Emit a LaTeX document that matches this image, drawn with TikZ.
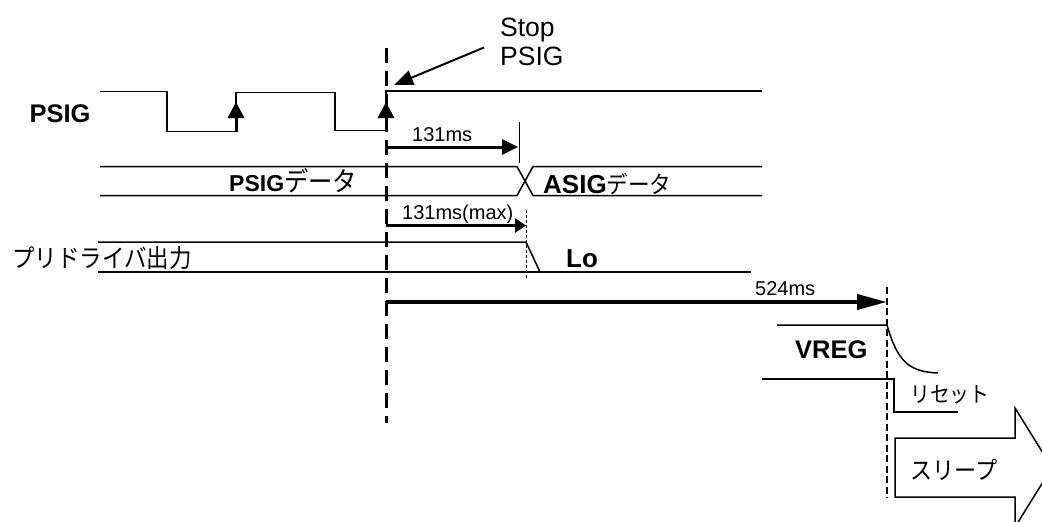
\documentclass[tikz,border=0pt]{standalone}
\usepackage{fontspec}
\setmainfont{Liberation Sans}
\newfontfamily\jp[FakeStretch=0.9]{Noto Sans CJK JP}
\usetikzlibrary{arrows.meta}
\begin{document}
\begin{tikzpicture}[x=1pt,y=-1pt,
  wave/.style={line width=1.5pt},
  thin/.style={line width=1pt},
  txt/.style={inner sep=0pt},
  small/.style={txt,font=\fontsize{20}{24}\selectfont},
  boldlbl/.style={txt,font=\bfseries\fontsize{25.5}{30}\selectfont},
  jplbl/.style={txt,font=\jp\fontsize{25}{30}\selectfont},
  upedge/.style={line width=3pt,-{Triangle[length=16pt,width=16pt]}},
  dimarrow/.style={line width=3pt,-{Triangle[length=16pt,width=15pt]}}
]
\useasboundingbox (0,0) rectangle (1042,522);
\clip (0,0) rectangle (1042,522);

% ---------------- PSIG waveform
\draw[wave] (100,91.5) -- (167,91.5) -- (167,131.5) -- (236,131.5) -- (236,92.5)
  -- (335,92.5) -- (335,130.5) -- (386,130.5) -- (386,91) -- (762,91);
\coordinate (up1b) at (236,132);
\coordinate (up1t) at (236,102);
\coordinate (up2b) at (386,132);
\coordinate (up2t) at (386,102);
\draw[upedge] (up1b) -- (up1t);
\draw[upedge] (up2b) -- (up2t);
\node[boldlbl,anchor=base] (psig) at (60,122) {PSIG};

% Stop PSIG annotation
\node[txt,font=\fontsize{26.5}{30}\selectfont,anchor=base west] (stop) at (500,36.5) {Stop};
\node[txt,font=\fontsize{26.5}{30}\selectfont,anchor=base west] (stoppsig) at (500,65) {PSIG};
\coordinate (stopfrom) at (484,47.5);
\coordinate (stopto) at (394,85);
\draw[line width=2pt,-{Triangle[length=19pt,width=15pt]}] (stopfrom) -- (stopto);

% main dashed line
\coordinate (dtop) at (386,48);
\coordinate (dbot) at (386,423);
\draw[line width=3pt,dash pattern=on 15pt off 8pt] (dtop) -- (dbot);

% 131ms
\coordinate (a1s) at (386,147);
\coordinate (a1e) at (518,147);
\draw[dimarrow] (a1s) -- (a1e);
\draw[thin] (519,122) -- (519,163);
\node[small,anchor=base west] (t131) at (412,141.5) {131ms};

% data bus
\draw[wave] (100,166.5) -- (517,166.5) -- (533,195.5) -- (762,195.5);
\draw[wave] (100,195.5) -- (517,195.5) -- (533,166.5) -- (762,166.5);
\node[txt,anchor=base west] (pdata) at (229,191.5)
  {\bfseries\fontsize{23}{27}\selectfont PSIG\jp\mdseries\fontsize{27}{30}\selectfont データ};
\node[txt,anchor=base west] (adata) at (543,193)
  {\bfseries\fontsize{26}{30}\selectfont ASIG\jp\mdseries\fontsize{24}{28}\selectfont データ};

% 131ms(max)
\coordinate (a2s) at (386,225.5);
\coordinate (a2e) at (526,225.5);
\draw[line width=3pt,-{Triangle[length=11pt,width=14pt]}] (a2s) -- (a2e);
\draw[thin,dash pattern=on 3pt off 2pt] (526,210) -- (526,278);
\node[small,anchor=base west] (t131max) at (402,219) {131ms(max)};

% pre-driver output
\draw[wave] (98,242) -- (526,242) -- (540,272);
\draw[wave] (98,272) -- (751,272);
\node[jplbl,anchor=west] (predrv) at (12,258) {プリドライバ出力};
\node[txt,font=\bfseries\fontsize{26}{30}\selectfont,anchor=base west] (lo) at (566,267) {Lo};

% 524ms
\coordinate (a3s) at (386,302);
\coordinate (a3e) at (887,302);
\draw[line width=4pt,-{Triangle[length=30pt,width=15pt]}] (a3s) -- (a3e);
\node[small,anchor=base west] (t524) at (755,295) {524ms};

% right dashed line
\draw[line width=1.5pt,dash pattern=on 7pt off 3.5pt] (887,287) -- (887,498);

% VREG
\draw[wave] (777,325) -- (887,325) .. controls (897,360) and (908,372) .. (938,373);
\node[boldlbl,anchor=base west] (vreg) at (795,358) {VREG};

% reset
\draw[wave] (762,379) -- (894,379) -- (894,412) -- (958,412);
\node[txt,font=\jp\fontsize{22}{26}\selectfont,anchor=west] (reset) at (910,395) {リセット};

% sleep arrow
\draw[wave,fill=white] (895,438) -- (1015,438) -- (1015,408) -- (1052,467.5)
  -- (1015,527) -- (1015,497) -- (895,497) -- cycle;
\node[txt,font=\jp\fontsize{24.5}{28}\selectfont,anchor=west] (sleep) at (910,470) {スリープ};
\end{tikzpicture}
\end{document}
